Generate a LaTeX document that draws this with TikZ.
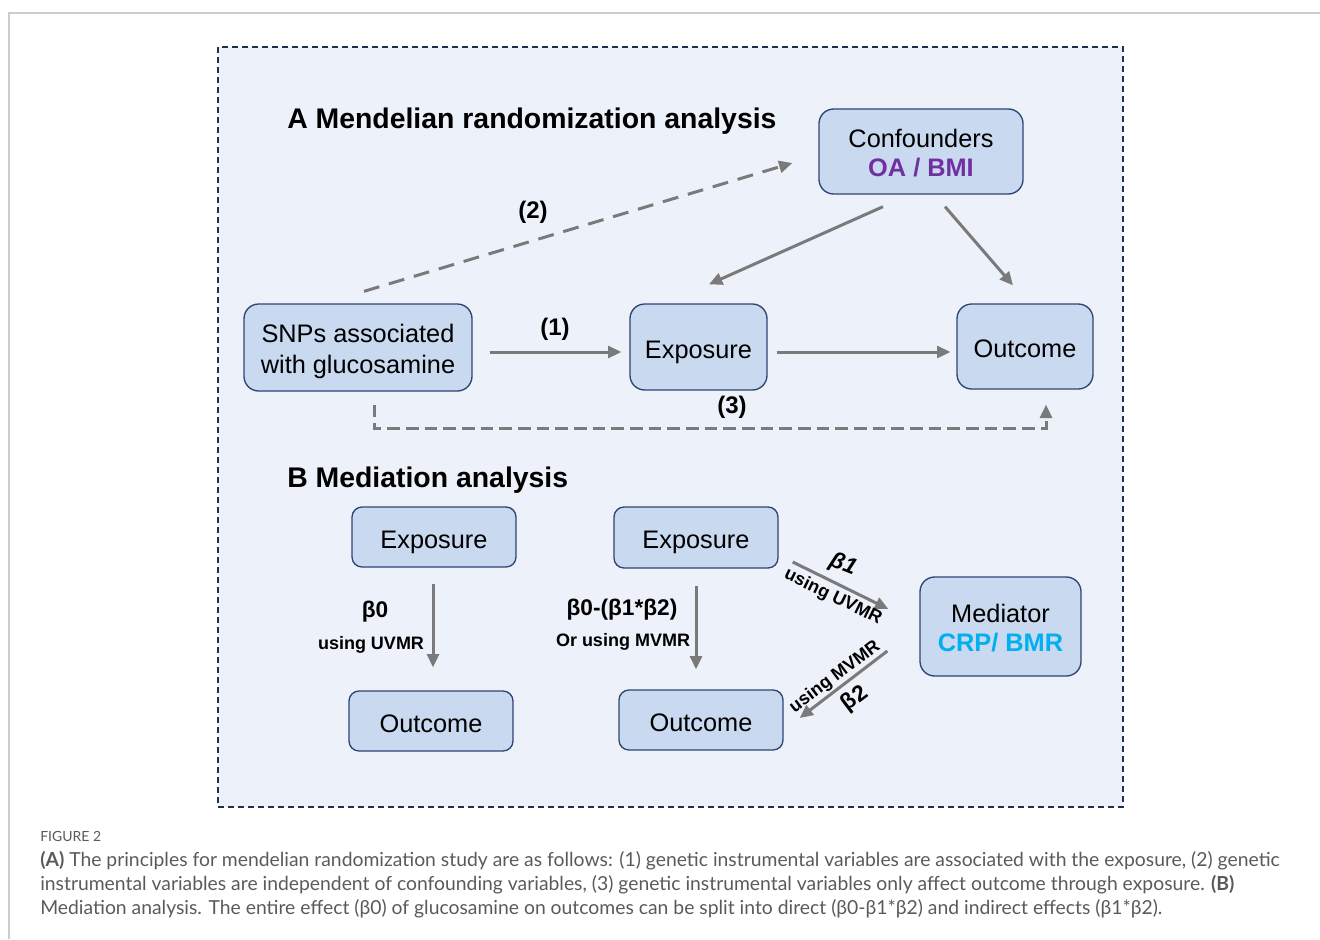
\documentclass[tikz,border=0pt]{standalone}
\usepackage{fontspec}
\setmainfont{Liberation Sans}
\newfontfamily\capfont{Lato}
\usetikzlibrary{arrows.meta,calc}
\definecolor{panelfill}{HTML}{EDF1F9}
\definecolor{panelline}{HTML}{1F2F4F}
\definecolor{boxfill}{HTML}{C9D9EF}
\definecolor{boxline}{HTML}{2E4573}
\definecolor{arrowgray}{HTML}{7A7A7A}
\definecolor{oapurple}{HTML}{7030A0}
\definecolor{crpcyan}{HTML}{00B0F0}
\definecolor{frameline}{HTML}{CCCCCC}
\definecolor{captext}{HTML}{5A5A5A}
\tikzset{
  boxbase/.style={draw=boxline, line width=1pt, fill=boxfill, rounded corners=11pt,
    font=\fontsize{19}{23}\selectfont, inner sep=0pt},
  box/.style={boxbase, align=center},
  onebox/.style={boxbase, text height=17pt, text depth=0pt},
  bbox/.style={onebox, rounded corners=7.5pt},
  conn/.style={draw=arrowgray, line width=2.25pt, -{Triangle[length=10pt,width=9pt]}},
  dconn/.style={conn, dash pattern=on 12pt off 7.5pt},
  dconnb/.style={conn, dash pattern=on 9.5pt off 4.5pt},
  numlab/.style={font=\fontsize{18}{20}\selectfont\bfseries},
  betalab/.style={font=\fontsize{17}{19}\selectfont\bfseries},
  uselab/.style={font=\fontsize{13.5}{15}\selectfont\bfseries},
  title/.style={font=\fontsize{21.3}{24}\selectfont\bfseries, anchor=base west, inner sep=0pt},
  capline/.style={font=\capfont\fontsize{14.5}{17}\selectfont, text=captext, anchor=base west, inner sep=0pt}
}
\begin{document}
\begin{tikzpicture}[x=0.75pt,y=-0.75pt]
\useasboundingbox (0,0) rectangle (1320,939);
% outer frame
\draw[frameline, line width=1.5pt] (9,939) -- (9,13) -- (1320,13);
% panel
\draw[panelline, fill=panelfill, line width=0.9pt, dash pattern=on 4.5pt off 3pt] (218,47) rectangle (1123,807);

% titles
\node[title] (tA) at (287,128) {A Mendelian randomization analysis};
\node[title] (tB) at (287,487) {B Mediation analysis};

% panel A boxes
\node[box, minimum width=153pt, minimum height=63.75pt] (conf) at (921,151.5)
  {\rule{0pt}{16pt}Confounders\\[-1pt]{\color{oapurple}\bfseries OA / BMI}};
\node[box, minimum width=171pt, minimum height=65.25pt] (snp) at (358,347.5)
  {\rule{0pt}{19.5pt}SNPs associated\\with glucosamine};
\node[onebox, minimum width=102.75pt, minimum height=64.5pt] (expA) at (698.5,347) {Exposure};
\node[onebox, minimum width=102pt, minimum height=63.75pt] (outA) at (1025,346.5) {Outcome};

% panel A connectors
\draw[conn] ($(snp.east)+(17,4.5)$) -- ($(expA.west)+(-8,5)$);
\draw[conn] ($(expA.east)+(9,5)$) -- ($(outA.west)+(-6,5.5)$);
\draw[conn] ($(conf.south)+(-38,12)$) -- ($(expA.north)+(10.5,-19)$);
\draw[conn] ($(conf.south)+(24,12)$) -- ($(outA.north)+(-12,-18)$);
\draw[dconn] ($(snp.north)+(6,-12)$) -- ($(conf.west)+(-26,11.5)$);
\draw[dconnb] ($(snp.south)+(16,13)$) |- ($(outA.south)+(21,39)$) -- ($(outA.south)+(21,15)$);

\node[numlab] (l1) at (555,329) {(1)};
\node[numlab] (l2) at (533,212) {(2)};
\node[numlab] (l3) at (732,407) {(3)};

% panel B boxes
\node[bbox, minimum width=123pt, minimum height=45pt] (expB1) at (434,537) {Exposure};
\node[bbox, minimum width=123pt, minimum height=45pt] (outB1) at (431,721) {Outcome};
\node[bbox, minimum width=123pt, minimum height=45.75pt] (expB2) at (696,537.5) {Exposure};
\node[bbox, minimum width=123pt, minimum height=45pt] (outB2) at (701,720) {Outcome};
\node[box, minimum width=120.75pt, minimum height=74.25pt] (med) at (1000.5,626.5)
  {\rule{0pt}{16pt}Mediator\\[-1pt]{\color{crpcyan}\bfseries CRP/ BMR}};

% panel B connectors
\draw[conn] ($(expB1.south)+(-1,16)$) -- ($(outB1.north)+(2,-23)$);
\draw[conn] ($(expB2.south)+(0,17)$) -- ($(outB2.north)+(-5,-20)$);
\draw[conn] ($(expB2.east)+(14,24.5)$) -- ($(med.west)+(-31,-17.5)$);
\draw[conn] ($(med.west)+(-32,24.5)$) -- ($(outB2.east)+(16,-2)$);

\node[betalab] (b0) at (375,612) {β0};
\node[uselab] (u0) at (371,645) {using UVMR};
\node[betalab] (b02) at (622,610) {β0-(β1*β2)};
\node[uselab] (u02) at (623,642) {Or using MVMR};
\node[betalab, font=\fontsize{17}{19}\selectfont\bfseries\itshape, rotate=-22] (b1) at (843,565) {β1};
\node[uselab, rotate=-26] (u1) at (833,597) {using UVMR};
\node[uselab, rotate=37] (u2) at (835,677) {using MVMR};
\node[betalab, rotate=37] (b2) at (855,699) {β2};

% caption
\node[capline, font=\capfont\fontsize{10.5}{12}\selectfont] (fig) at (40,841) {FIGURE 2};
\node[capline] (c1) at (40,866) {\textbf{(A)} The principles for mendelian randomization study are as follows: (1) genetic instrumental variables are associated with the exposure, (2) genetic};
\node[capline] (c2) at (40,890) {instrumental variables are independent of confounding variables, (3) genetic instrumental variables only affect outcome through exposure. \textbf{(B)}};
\node[capline] (c3) at (40,914) {Mediation analysis. The entire effect (β0) of glucosamine on outcomes can be split into direct (β0-β1*β2) and indirect effects (β1*β2).};
\end{tikzpicture}
\end{document}
